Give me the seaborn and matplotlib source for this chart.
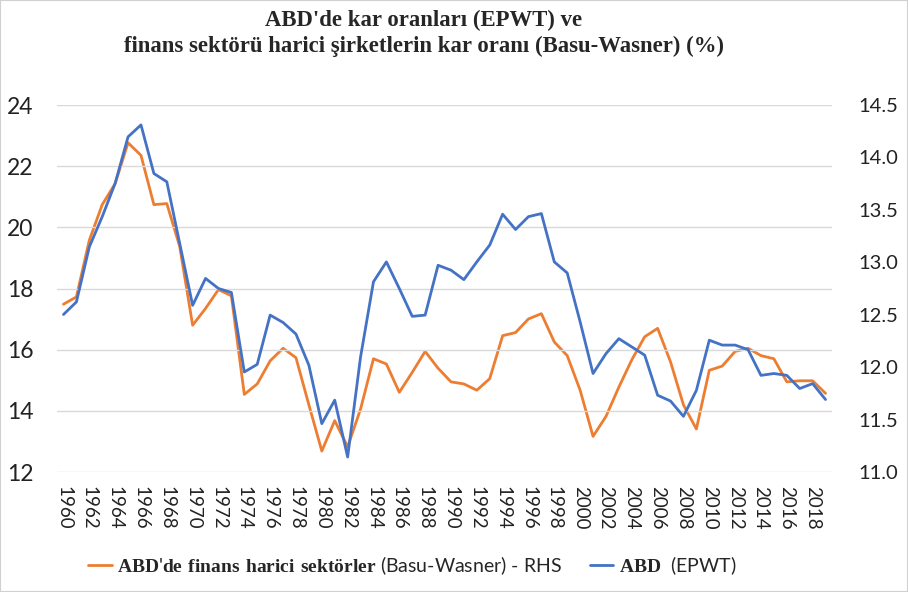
import numpy as np
import pandas as pd
import matplotlib.pyplot as plt
import matplotlib as mpl
from matplotlib.patches import Rectangle
import seaborn as sns

years = list(range(1960, 2020))

# ABD (EPWT) - sol eksen
abd_epwt = [17.15, 17.56, 19.36, 20.35, 21.44, 22.96, 23.35, 21.76, 21.49, 19.47,
            17.45, 18.33, 18.00, 17.87, 15.27, 15.52, 17.13, 16.89, 16.51, 15.49,
            13.58, 14.35, 12.49, 15.76, 18.22, 18.87, 18.00, 17.09, 17.13, 18.76,
            18.60, 18.29, 18.87, 19.42, 20.43, 19.93, 20.35, 20.45, 18.87, 18.51,
            16.91, 15.22, 15.87, 16.36, 16.09, 15.82, 14.51, 14.32, 13.82, 14.67,
            16.31, 16.15, 16.15, 16.00, 15.16, 15.22, 15.16, 14.73, 14.89, 14.37]

# finans harici sektorler (Basu-Wasner) - sag eksen
basu_wasner = [12.60, 12.67, 13.21, 13.55, 13.75, 14.14, 14.02, 13.55, 13.56, 13.15,
               12.40, 12.56, 12.74, 12.68, 11.74, 11.84, 12.06, 12.18, 12.09, 11.64,
               11.20, 11.49, 11.24, 11.60, 12.08, 12.03, 11.76, 11.95, 12.15, 11.99,
               11.86, 11.84, 11.78, 11.89, 12.30, 12.33, 12.46, 12.51, 12.24, 12.11,
               11.78, 11.34, 11.53, 11.81, 12.07, 12.29, 12.37, 12.05, 11.64, 11.41,
               11.97, 12.01, 12.15, 12.18, 12.11, 12.08, 11.86, 11.87, 11.87, 11.75]

left_ticks = [12, 14, 16, 18, 20, 22, 24]
right_ticks = [11.0, 11.5, 12.0, 12.5, 13.0, 13.5, 14.0, 14.5]
year_ticks = list(range(1960, 2019, 2))

df = pd.DataFrame({'yil': years, 'epwt': abd_epwt, 'bw': basu_wasner})

sns.set_style('white')
plt.rcParams['font.family'] = ['Lato', 'DejaVu Sans']
plt.rcParams['mathtext.fontset'] = 'custom'
plt.rcParams['mathtext.bf'] = 'Liberation Serif:bold'
plt.rcParams['mathtext.rm'] = 'Liberation Serif'

fig = plt.figure(figsize=(9.08, 5.92), dpi=100)
ax = fig.add_axes([0.0628, 0.2027, 0.8535, 0.6199])
ax2 = ax.twinx()

sns.lineplot(data=df, x='yil', y='epwt', ax=ax, color='#4472C4', linewidth=2.0)
sns.lineplot(data=df, x='yil', y='bw', ax=ax2, color='#ED7D31', linewidth=2.0)
ax.set_zorder(ax2.get_zorder() + 1)
ax.patch.set_visible(False)

ax.set_xlim(1959.5, 2019.5)
ax.set_ylim(12, 24)
ax2.set_ylim(11, 14.5)
ax.set_yticks(left_ticks)
ax2.set_yticks(right_ticks)
ax2.set_yticklabels([f'{t:.1f}' for t in right_ticks])
ax.set_xticks(year_ticks)
ax.set_xticklabels([str(y) for y in year_ticks], rotation=-90)
ax.grid(axis='y', color='#D9D9D9', linewidth=1)
ax.grid(axis='x', visible=False)
ax2.grid(False)
for a in (ax, ax2):
    for s in a.spines.values():
        s.set_visible(False)
    a.set_xlabel('')
    a.set_ylabel('')
ax.tick_params(axis='y', labelsize=16.5, length=0, pad=17, colors='#222222')
ax2.tick_params(axis='y', labelsize=14.5, length=0, pad=19, colors='#222222')
ax.tick_params(axis='x', labelsize=13.5, length=0, pad=10, colors='#222222')

fig.text(0.467, 0.966, "ABD'de kar oranları (EPWT) ve", ha='center', va='center',
         family='Liberation Serif', fontweight='bold', fontsize=16.4)
fig.text(0.467, 0.921, "finans sektörü harici şirketlerin kar oranı (Basu-Wasner) (%)",
         ha='center', va='center', family='Liberation Serif', fontweight='bold', fontsize=16.4)

h_bw = ax2.get_lines()[0]
h_ep = ax.get_lines()[0]
fig.legend([h_bw, h_ep],
           [r"$\mathbf{ABD}$'$\mathbf{de\ finans\ harici\ sektörler}$ (Basu-Wasner) - RHS",
            r"$\mathbf{ABD}$  (EPWT)"],
           loc='center', bbox_to_anchor=(0.454, 0.045), ncol=2, frameon=False,
           fontsize=14, handlelength=1.2, handletextpad=0.3, columnspacing=1.4)

fig.patches.append(Rectangle((0, 0), 1, 1, transform=fig.transFigure, fill=False,
                             edgecolor='#D0D0D0', linewidth=1.5))

plt.savefig('out.png', dpi=100)
